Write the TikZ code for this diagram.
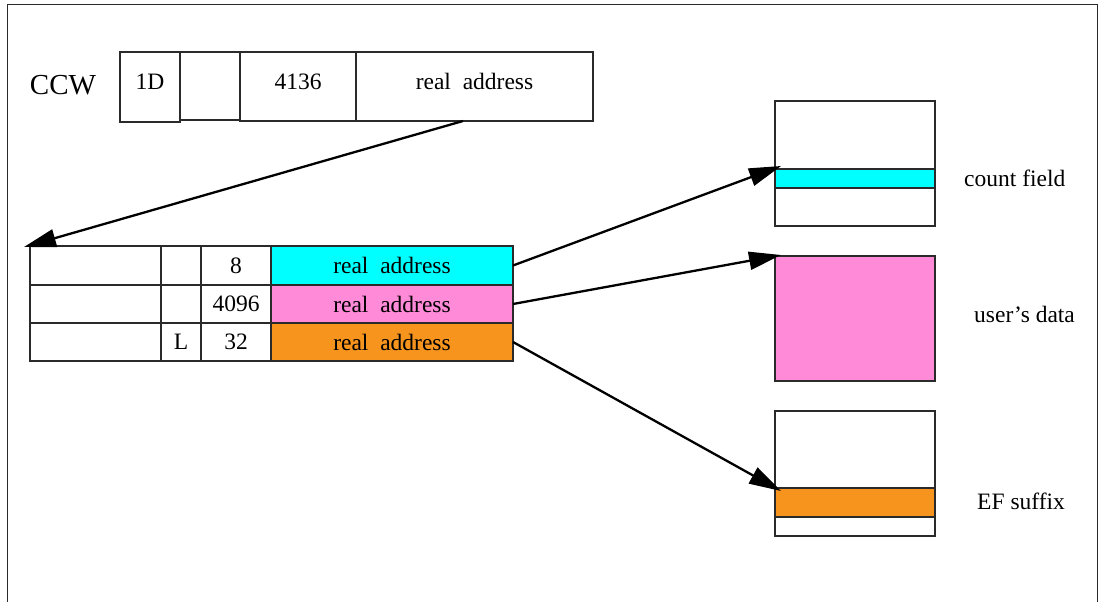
\documentclass[tikz,border=0pt]{standalone}
\usepackage{fontspec}
\setmainfont{Liberation Serif}
\usetikzlibrary{arrows.meta}
\definecolor{cyanfill}{HTML}{00FFFF}
\definecolor{pinkfill}{HTML}{FF8AD8}
\definecolor{orangefill}{HTML}{F7941D}
\definecolor{linegray}{HTML}{2A2A2A}
\begin{document}
\begin{tikzpicture}[x=1pt,y=-1pt,
  cell/.style={draw=linegray, line width=1.1pt, inner sep=0pt, outer sep=0pt, anchor=north west,
    font=\fontsize{23.5}{28}\selectfont},
  ccwcell/.style={cell, text height=15.5pt, text depth=10pt},
  lbl/.style={inner sep=0pt, anchor=base west, font=\fontsize{23.5}{28}\selectfont},
  frame/.style={draw=linegray, line width=1pt},
  ptr/.style={draw=black, line width=2.3pt, -{Triangle[length=32pt,width=18pt]}}
]
\useasboundingbox (0,0) rectangle (1103,602);
\draw[frame] (7,602) -- (7,5) -- (1097,5) -- (1097,602);

% CCW
\node[lbl, anchor=base, font=\fontsize{29}{34}\selectfont] (ccw) at (63,94) {CCW};
\node[ccwcell, minimum width=60pt, minimum height=70pt] (c1) at (120,52) {1D};
\node[ccwcell, minimum width=60pt, minimum height=68pt] (c2) at (180,52) {};
\node[ccwcell, minimum width=116pt, minimum height=69pt] (c3) at (240,52) {4136};
\node[ccwcell, minimum width=237pt, minimum height=69pt] (c4) at (356,52) {real\ \ address};

% table of data addresses
\foreach \r/\y/\h in {1/246/39, 2/285/38, 3/323/38} {
  \node[cell, minimum width=131pt, minimum height=\h pt] (r\r c1) at (30,\y) {};
}
\node[cell, minimum width=40pt, minimum height=39pt] (r1c2) at (161,246) {};
\node[cell, minimum width=40pt, minimum height=38pt] (r2c2) at (161,285) {};
\node[cell, minimum width=40pt, minimum height=38pt] (r3c2) at (161,323) {L};
\node[cell, minimum width=70pt, minimum height=39pt] (r1c3) at (201,246) {8};
\node[cell, minimum width=70pt, minimum height=38pt] (r2c3) at (201,285) {4096};
\node[cell, minimum width=70pt, minimum height=38pt] (r3c3) at (201,323) {32};
\node[cell, fill=cyanfill, minimum width=242pt, minimum height=39pt] (r1c4) at (271,246) {real\ \ address};
\node[cell, fill=pinkfill, minimum width=242pt, minimum height=38pt] (r2c4) at (271,285) {real\ \ address};
\node[cell, fill=orangefill, minimum width=242pt, minimum height=38pt] (r3c4) at (271,323) {real\ \ address};

% right side storage areas
\node[cell, minimum width=160pt, minimum height=125pt] (b1) at (775,101) {};
\node[cell, fill=cyanfill, minimum width=160pt, minimum height=19pt] (band1) at (775,169) {};
\node[cell, fill=pinkfill, minimum width=160pt, minimum height=125pt] (b2) at (775,256) {};
\node[cell, minimum width=160pt, minimum height=125pt] (b3) at (775,411) {};
\node[cell, fill=orangefill, minimum width=160pt, minimum height=29pt] (band3) at (775,488) {};

\node[lbl] (lcount) at (964,186) {count field};
\node[lbl] (luser) at (974,322) {user’s data};
\node[lbl] (lef) at (977,509) {EF suffix};

% pointers
\coordinate (a0s) at (463,121);
\coordinate (a0e) at (24,247);
\coordinate (a1e) at (781,166);
\coordinate (a2e) at (781,255);
\coordinate (a3e) at (781,491);
\draw[ptr] (a0s) -- (a0e);
\draw[ptr] (r1c4.east) -- (a1e);
\draw[ptr] (r2c4.east) -- (a2e);
\draw[ptr] (r3c4.east) -- (a3e);
\end{tikzpicture}
\end{document}
